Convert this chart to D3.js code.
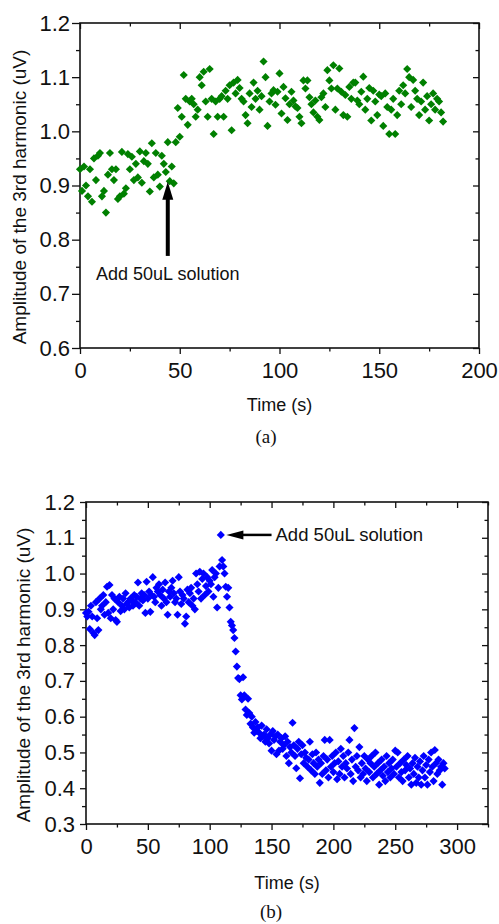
<!DOCTYPE html>
<html>
<head>
    <meta charset="utf-8">
    <title>Third harmonic amplitude</title>
    <style>
        body { margin: 0; background: #fff; }
        svg { display: block; }
        .tick text { font-family: "Liberation Sans", Arial, sans-serif; fill: #111; }
        .title { font-family: "Liberation Sans", Arial, sans-serif; fill: #111; }
        .panel-label { font-family: "Liberation Serif", "Times New Roman", serif; fill: #111; }
    </style>
</head>
<script src="https://d3js.org/d3.v7.min.js"></script>
<body>
    <div id="chart"></div>
</body>
<script>

// panel (a): one reading per second, t = 0 .. 182 s
var stepA = 1;
var ampA = [
    0.93, 0.89, 0.935, 0.90, 0.88, 0.93, 0.87, 0.95, 0.91, 0.955,
    0.96, 0.88, 0.89, 0.85, 0.92, 0.96, 0.93, 0.91, 0.93, 0.875,
    0.88, 0.962, 0.885, 0.895, 0.958, 0.93, 0.953, 0.91, 0.94, 0.915,
    0.963, 0.905, 0.945, 0.96, 0.94, 0.889, 0.978, 0.915, 0.96, 0.92,
    0.898, 0.955, 0.94, 0.925, 0.98, 0.908, 0.935, 0.904, 0.98, 1.043,
    0.99, 1.027, 1.104, 1.06, 1.012, 1.055, 1.06, 1.05, 1.027, 1.04,
    1.10, 1.085, 1.11, 1.055, 1.027, 1.115, 1.06, 0.995, 1.055, 1.027,
    1.06, 1.065, 1.027, 1.075, 1.06, 1.085, 1.002, 1.09, 1.07, 1.095,
    1.08, 1.06, 1.055, 1.03, 1.015, 1.07, 1.045, 1.09, 1.06, 1.075,
    1.04, 1.065, 1.129, 1.10, 1.01, 1.055, 1.07, 1.076, 1.049, 1.073,
    1.107, 1.033, 1.082, 1.061, 1.021, 1.05, 1.073, 1.057, 1.046, 1.043,
    1.027, 1.015, 1.094, 1.079, 1.094, 1.063, 1.05, 1.035, 1.057, 1.027,
    1.021, 1.063, 1.07, 1.045, 1.113, 1.094, 1.079, 1.122, 1.04, 1.079,
    1.116, 1.073, 1.03, 1.067, 1.027, 1.082, 1.06, 1.09, 1.09, 1.057,
    1.05, 1.073, 1.101, 1.04, 1.06, 1.08, 1.02, 1.075, 1.055, 1.03,
    1.068, 1.065, 1.01, 1.07, 1.045, 0.995, 1.04, 1.06, 0.995, 1.03,
    1.075, 1.05, 1.085, 1.07, 1.115, 1.10, 1.045, 1.095, 1.075, 1.06,
    1.03, 1.055, 1.09, 1.04, 1.065, 1.02, 1.05, 1.07, 1.04, 1.06,
    1.055, 1.035, 1.018
];

// panel (b): one reading per second, t = 0 .. 290 s
var stepB = 1;
var ampB = [
    0.89, 0.88, 0.893, 0.845, 0.91, 0.88, 0.834, 0.828, 0.92, 0.875,
    0.842, 0.93, 0.90, 0.91, 0.94, 0.885, 0.92, 0.963, 0.89, 0.968,
    0.875, 0.94, 0.90, 0.93, 0.87, 0.865, 0.92, 0.935, 0.895, 0.91,
    0.93, 0.90, 0.945, 0.915, 0.92, 0.905, 0.93, 0.925, 0.91, 0.94,
    0.92, 0.935, 0.975, 0.91, 0.93, 0.945, 0.925, 0.94, 0.89, 0.977,
    0.93, 0.95, 0.893, 0.94, 0.99, 0.935, 0.92, 0.96, 0.95, 0.97,
    0.94, 0.91, 0.955, 0.93, 0.975, 0.92, 0.885, 0.95, 0.935, 0.96,
    0.98, 0.945, 0.92, 0.93, 0.885, 0.99, 0.95, 0.915, 0.94, 0.93,
    0.86, 0.88, 0.955, 0.92, 0.945, 0.96, 0.91, 0.93, 0.90, 1.0,
    0.97, 0.95, 1.005, 0.93, 0.985, 1.0, 0.94, 0.965, 0.99, 0.95,
    0.98, 0.97, 1.01, 0.935, 0.99, 1.0, 0.905, 0.96, 1.02, 1.108,
    1.038, 1.02, 1.0, 0.963, 0.935, 0.96, 0.905, 0.865, 0.855, 0.842,
    0.82, 0.782, 0.74, 0.708, 0.705, 0.66, 0.648, 0.71, 0.66, 0.62,
    0.605, 0.65, 0.61, 0.58, 0.60, 0.57, 0.555, 0.585, 0.56, 0.57,
    0.555, 0.54, 0.575, 0.545, 0.55, 0.53, 0.565, 0.54, 0.525, 0.55,
    0.505, 0.56, 0.535, 0.545, 0.495, 0.55, 0.505, 0.53, 0.54, 0.51,
    0.52, 0.545, 0.49, 0.53, 0.47, 0.515, 0.50, 0.583, 0.52, 0.49,
    0.456, 0.51, 0.53, 0.428, 0.495, 0.52, 0.47, 0.50, 0.485, 0.46,
    0.48, 0.53, 0.45, 0.495, 0.47, 0.44, 0.50, 0.46, 0.48, 0.415,
    0.47, 0.44, 0.49, 0.535, 0.45, 0.48, 0.43, 0.535, 0.46, 0.49,
    0.445, 0.47, 0.50, 0.425, 0.475, 0.44, 0.51, 0.46, 0.49, 0.43,
    0.47, 0.455, 0.50, 0.535, 0.44, 0.48, 0.42, 0.568, 0.46, 0.49,
    0.45, 0.515, 0.43, 0.47, 0.44, 0.49, 0.455, 0.42, 0.48, 0.445,
    0.47, 0.49, 0.43, 0.46, 0.50, 0.44, 0.47, 0.41, 0.45, 0.48,
    0.435, 0.46, 0.42, 0.49, 0.445, 0.47, 0.43, 0.455, 0.48, 0.44,
    0.505, 0.46, 0.50, 0.43, 0.47, 0.445, 0.42, 0.48, 0.45, 0.465,
    0.49, 0.43, 0.455, 0.41, 0.47, 0.44, 0.485, 0.415, 0.46, 0.43,
    0.475, 0.41, 0.45, 0.49, 0.43, 0.465, 0.41, 0.48, 0.445, 0.50,
    0.46, 0.42, 0.507, 0.47, 0.44, 0.48, 0.45, 0.46, 0.41, 0.47,
    0.455
];

// axis ranges and ticks
var xDomainA = [0, 200], xMajorA = [0, 50, 100, 150, 200], xMinorA = [25, 75, 125, 175];
var yDomainA = [0.6, 1.2], yMajorA = [0.6, 0.7, 0.8, 0.9, 1.0, 1.1, 1.2];
var yMinorA = [0.65, 0.75, 0.85, 0.95, 1.05, 1.15];

var xDomainB = [0, 325], xMajorB = [0, 50, 100, 150, 200, 250, 300];
var xMinorB = [25, 75, 125, 175, 225, 275, 325];
var yDomainB = [0.3, 1.2], yMajorB = [0.3, 0.4, 0.5, 0.6, 0.7, 0.8, 0.9, 1.0, 1.1, 1.2];
var yMinorB = [0.35, 0.45, 0.55, 0.65, 0.75, 0.85, 0.95, 1.05, 1.15];

var xTitle = "Time (s)";
var yTitle = "Amplitude of the 3rd harmonic (uV)";
var note = "Add 50uL solution";

var svg = d3.select('#chart').append('svg')
    .attr('width', 499)
    .attr('height', 924);

function drawPanel(p) {
    var x = d3.scaleLinear().domain(p.xDomain).range([p.left, p.right]);
    var y = d3.scaleLinear().domain(p.yDomain).range([p.bottom, p.top]);
    var g = svg.append('g');

    // minor ticks first (no labels)
    g.append('g').attr('transform', 'translate(0,' + p.bottom + ')')
        .call(d3.axisBottom(x).tickValues(p.xMinor).tickSize(3.5).tickFormat(''));
    g.append('g').attr('transform', 'translate(0,' + p.top + ')')
        .call(d3.axisBottom(x).tickValues(p.xMinor).tickSize(3.5).tickFormat(''));
    g.append('g').attr('transform', 'translate(' + p.left + ',0)')
        .call(d3.axisLeft(y).tickValues(p.yMinor).tickSize(4).tickFormat(''));
    g.append('g').attr('transform', 'translate(' + p.right + ',0)')
        .call(d3.axisLeft(y).tickValues(p.yMinor).tickSize(3.5).tickFormat(''));

    // major ticks
    g.append('g').attr('transform', 'translate(0,' + p.bottom + ')')
        .call(d3.axisBottom(x).tickValues(p.xMajor).tickSize(6).tickPadding(8).tickFormat(d3.format('d')))
        .selectAll('text').style('font-size', '22px');
    g.append('g').attr('transform', 'translate(0,' + p.top + ')')
        .call(d3.axisBottom(x).tickValues(p.xMajor).tickSize(6).tickFormat(''));
    g.append('g').attr('transform', 'translate(' + p.left + ',0)')
        .call(d3.axisLeft(y).tickValues(p.yMajor).tickSize(p.yTick).tickPadding(p.yPad).tickFormat(d3.format('.1f')))
        .selectAll('text').style('font-size', '22px');
    g.append('g').attr('transform', 'translate(' + p.right + ',0)')
        .call(d3.axisLeft(y).tickValues(p.yMajor).tickSize(6).tickFormat(''));

    g.selectAll('.domain').remove();
    g.selectAll('.tick line').attr('stroke', '#111').attr('stroke-width', 1.3);

    // frame
    g.append('rect')
        .attr('x', p.left).attr('y', p.top)
        .attr('width', p.right - p.left).attr('height', p.bottom - p.top)
        .attr('fill', 'none').attr('stroke', '#111').attr('stroke-width', 1.6);

    // points
    var diamond = d3.symbol().type(d3.symbolSquare).size(33);
    g.append('g').selectAll('path')
        .data(p.values)
        .enter().append('path')
        .attr('d', diamond)
        .attr('fill', p.color)
        .attr('transform', function(d, i) {
            return 'translate(' + x(i * p.step) + ',' + y(d) + ') rotate(45)';
        });

    // titles
    g.append('text').attr('class', 'title')
        .attr('x', (p.left + p.right) / 2).attr('y', p.xTitleY)
        .attr('text-anchor', 'middle').style('font-size', '18px')
        .text(xTitle);
    g.append('text').attr('class', 'title')
        .attr('transform', 'translate(' + p.yTitleX + ',' + p.yTitleY + ') rotate(-90)')
        .attr('text-anchor', 'middle').style('font-size', '19px')
        .text(yTitle);
    g.append('text').attr('class', 'panel-label')
        .attr('x', p.labelX).attr('y', p.labelY)
        .attr('text-anchor', 'middle').style('font-size', '19px')
        .text(p.label);

    return { x: x, y: y, g: g };
}

var a = drawPanel({
    left: 80, right: 479, top: 23, bottom: 348,
    xDomain: xDomainA, xMajor: xMajorA, xMinor: xMinorA,
    yDomain: yDomainA, yMajor: yMajorA, yMinor: yMinorA,
    yTick: 8, yPad: 2,
    values: ampA, step: stepA, color: '#008000',
    xTitleY: 411, yTitleX: 26, yTitleY: 197,
    label: '(a)', labelX: 266, labelY: 443
});

var b = drawPanel({
    left: 86, right: 488, top: 502, bottom: 824,
    xDomain: xDomainB, xMajor: xMajorB, xMinor: xMinorB,
    yDomain: yDomainB, yMajor: yMajorB, yMinor: yMinorB,
    yTick: 6, yPad: 5,
    values: ampB, step: stepB, color: '#0000ff',
    xTitleY: 889, yTitleX: 30, yTitleY: 675,
    label: '(b)', labelX: 271, labelY: 918
});

// arrow (a): points up at the injection time
var injA = 44, tipA = 0.905, tailA = 0.77;
a.g.append('line')
    .attr('x1', a.x(injA)).attr('x2', a.x(injA))
    .attr('y1', a.y(tailA)).attr('y2', a.y(tipA) + 14)
    .attr('stroke', '#000').attr('stroke-width', 4);
a.g.append('path')
    .attr('d', 'M' + a.x(injA) + ',' + (a.y(tipA) - 1) +
        ' l-5.5,18 l11,0 z')
    .attr('fill', '#000');
a.g.append('text').attr('class', 'title')
    .attr('x', a.x(injA)).attr('y', 280)
    .attr('text-anchor', 'middle').style('font-size', '18px')
    .text(note);

// arrow (b): points left at the spike
var tipB = 113.5, tailB = 150, levelB = 1.108;
b.g.append('line')
    .attr('x1', b.x(tailB)).attr('x2', b.x(tipB) + 14)
    .attr('y1', b.y(levelB)).attr('y2', b.y(levelB))
    .attr('stroke', '#000').attr('stroke-width', 2.5);
b.g.append('path')
    .attr('d', 'M' + b.x(tipB) + ',' + b.y(levelB) + ' l17,-4.5 l0,9 z')
    .attr('fill', '#000');
b.g.append('text').attr('class', 'title')
    .attr('x', b.x(tailB) + 4).attr('y', b.y(levelB) + 6)
    .style('font-size', '18.5px')
    .text(note);

</script>
</html>
